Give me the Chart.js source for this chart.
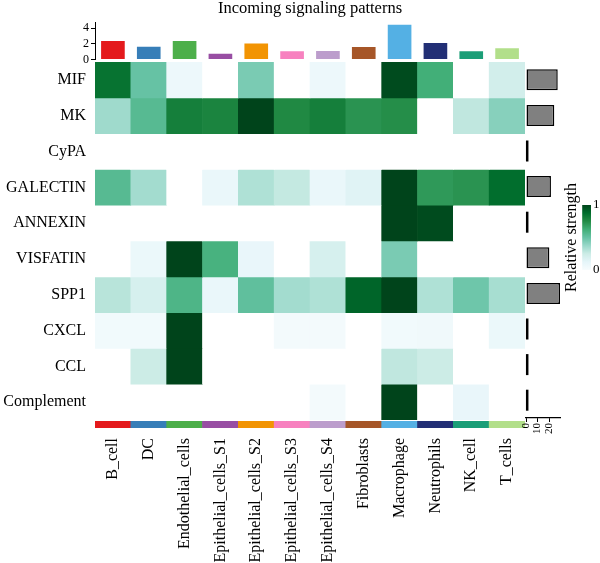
<!DOCTYPE html>
<html>
<head>
<meta charset="utf-8">
<title>Incoming signaling patterns</title>
<script src="https://cdn.jsdelivr.net/npm/chart.js@4.4.0/dist/chart.umd.min.js"></script>
<style>
    body { margin: 0; background: #fff; }
    #wrap { position: relative; width: 600px; height: 563px; overflow: hidden; }
    canvas { position: absolute; }
</style>
</head>
<body>
<div id="wrap">
    <canvas id="topBars" width="600" height="70" style="left:0;top:0"></canvas>
    <canvas id="heat" width="525" height="396" style="left:0;top:43px"></canvas>
    <canvas id="strip" width="600" height="152" style="left:0;top:411px"></canvas>
    <canvas id="rowBars" width="85" height="393" style="left:515px;top:52px"></canvas>
    <canvas id="legend" width="45" height="135" style="left:555px;top:170px"></canvas>
</div>
<script>
    // cell groups (columns) and signaling pathways (rows)
    const cellTypes = ['B_cell', 'DC', 'Endothelial_cells', 'Epithelial_cells_S1', 'Epithelial_cells_S2',
        'Epithelial_cells_S3', 'Epithelial_cells_S4', 'Fibroblasts', 'Macrophage', 'Neutrophils', 'NK_cell', 'T_cells'];
    const cellColors = ['#E41A1C', '#377EB8', '#4DAF4A', '#984EA3', '#F29403', '#F781BF',
        '#BC9DCC', '#A65628', '#54B0E4', '#222F75', '#1B9E77', '#B2DF8A'];
    const pathways = ['MIF', 'MK', 'CyPA', 'GALECTIN', 'ANNEXIN', 'VISFATIN', 'SPP1', 'CXCL', 'CCL', 'Complement'];

    // relative strength per pathway, one value per cell group
    const mif        = [0.85, 0.50, 0.07, 0,    0.45, 0,    0.07, 0,    0.98, 0.62, 0,    0.22];
    const mk         = [0.36, 0.55, 0.80, 0.78, 1.00, 0.76, 0.80, 0.72, 0.74, 0,    0.28, 0.42];
    const cypa       = [0,    0,    0,    0,    0,    0,    0,    0,    0,    0,    0,    0];
    const galectin   = [0.55, 0.35, 0,    0.09, 0.32, 0.27, 0.09, 0.15, 1.00, 0.70, 0.72, 0.87];
    const annexin    = [0,    0,    0,    0,    0,    0,    0,    0,    1.00, 0.98, 0,    0];
    const visfatin   = [0,    0.08, 1.00, 0.60, 0.10, 0,    0.20, 0,    0.45, 0,    0,    0];
    const spp1       = [0.30, 0.20, 0.58, 0.09, 0.52, 0.35, 0.32, 0.90, 1.00, 0.32, 0.48, 0.34];
    const cxcl       = [0.04, 0.04, 1.00, 0,    0,    0.03, 0.03, 0,    0.04, 0.05, 0,    0.08];
    const ccl        = [0,    0.25, 1.00, 0,    0,    0,    0,    0,    0.28, 0.25, 0,    0];
    const complement = [0,    0,    0,    0,    0,    0,    0.03, 0,    1.00, 0,    0.10, 0];
    const heatRows = [mif, mk, cypa, galectin, annexin, visfatin, spp1, cxcl, ccl, complement];

    // top annotation: incoming total per cell group
    const incomingTotals = [2.39, 1.65, 2.39, 0.75, 2.04, 1.06, 1.10, 1.61, 4.45, 2.13, 1.06, 1.45];
    const topTicks = [0, 2, 4];
    // right annotation: total per pathway
    const rowTotals = [27.6, 24.6, 0, 21.7, 0, 20.3, 29.6, 0, 0, 0];
    const rowTicks = [0, 10, 20];
    const legendTicks = [0, 1];

    const serif = 'Liberation Serif, Times New Roman, serif';
    const bugn = ['#f7fcfd', '#e5f5f9', '#ccece6', '#99d8c9', '#66c2a4', '#41ae76', '#238b45', '#006d2c', '#00441b'];

    function hexRgb(h) {
        return [parseInt(h.slice(1, 3), 16), parseInt(h.slice(3, 5), 16), parseInt(h.slice(5, 7), 16)];
    }
    function rampColor(v) {
        const t = Math.max(0, Math.min(1, v)) * (bugn.length - 1);
        const i = Math.min(Math.floor(t), bugn.length - 2);
        const f = t - i;
        const a = hexRgb(bugn[i]), b = hexRgb(bugn[i + 1]);
        const c = a.map((x, k) => Math.round(x + (b[k] - x) * f));
        return `rgb(${c[0]},${c[1]},${c[2]})`;
    }
    function heatColor(v) {
        return v <= 0 ? '#ffffff' : rampColor(v);
    }

    Chart.defaults.font.family = serif;
    Chart.defaults.color = '#000';

    // top bar annotation + title
    new Chart(document.getElementById('topBars'), {
        type: 'bar',
        data: {
            labels: cellTypes,
            datasets: [{
                data: incomingTotals,
                backgroundColor: cellColors,
                barPercentage: 0.66,
                categoryPercentage: 1
            }]
        },
        options: {
            responsive: false,
            animation: false,
            layout: { padding: { left: 70, right: 75, top: 0, bottom: 10.5 } },
            plugins: {
                legend: { display: false },
                tooltip: { enabled: false },
                title: {
                    display: true,
                    text: 'Incoming signaling patterns',
                    fullSize: false,
                    color: '#000',
                    font: { family: serif, size: 16.5, weight: 'normal', lineHeight: 1 },
                    padding: { top: 0, bottom: 6 }
                }
            },
            scales: {
                x: { display: false },
                y: {
                    min: 0,
                    max: 4.75,
                    afterFit: s => { s.width = 25; },
                    afterBuildTicks: s => { s.ticks = topTicks.map(v => ({ value: v })); },
                    grid: { drawOnChartArea: false, drawTicks: true, tickLength: 4, color: '#000' },
                    border: { display: true, color: '#000', width: 1 },
                    ticks: { autoSkip: false, color: '#000', font: { family: serif, size: 12 }, padding: 2 }
                }
            }
        }
    });

    // heatmap as stacked bars, one dataset per pathway
    new Chart(document.getElementById('heat'), {
        type: 'bar',
        data: {
            labels: cellTypes,
            datasets: heatRows.map((vals, r) => ({
                label: pathways[r],
                data: vals.map(() => 1),
                backgroundColor: vals.map(heatColor),
                borderWidth: 0,
                barPercentage: 1,
                categoryPercentage: 1
            }))
        },
        options: {
            responsive: false,
            animation: false,
            layout: { padding: { left: 0, right: 0, top: 19, bottom: 19 } },
            plugins: { legend: { display: false }, tooltip: { enabled: false } },
            scales: {
                x: { display: false, stacked: true },
                y: {
                    stacked: true,
                    reverse: true,
                    min: 0,
                    max: pathways.length,
                    afterFit: s => { s.width = 95; },
                    afterBuildTicks: s => { s.ticks = pathways.map((p, i) => ({ value: i + 0.5 })); },
                    grid: { display: false, drawTicks: false },
                    border: { display: false },
                    ticks: {
                        autoSkip: false,
                        padding: 9,
                        color: '#000',
                        font: { family: serif, size: 16 },
                        callback: v => pathways[Math.floor(v)]
                    }
                }
            }
        }
    });

    // colour strip of cell groups with their names
    new Chart(document.getElementById('strip'), {
        type: 'bar',
        data: {
            labels: cellTypes,
            datasets: [{
                data: cellTypes.map(() => 1),
                backgroundColor: cellColors,
                borderWidth: 0,
                barPercentage: 1,
                categoryPercentage: 1
            }]
        },
        options: {
            responsive: false,
            animation: false,
            layout: { padding: { left: 95, right: 75, top: 10, bottom: 0 } },
            plugins: { legend: { display: false }, tooltip: { enabled: false } },
            scales: {
                y: { display: false, min: 0, max: 1 },
                x: {
                    afterFit: s => { s.height = 135; },
                    grid: { display: false, drawTicks: false },
                    border: { display: false },
                    ticks: {
                        autoSkip: false,
                        minRotation: 90,
                        maxRotation: 90,
                        padding: 10,
                        color: '#000',
                        font: { family: serif, size: 16 }
                    }
                }
            }
        }
    });

    // zero-valued rows are drawn as a short black line at 0
    const zeroDash = {
        id: 'zeroDash',
        afterDatasetsDraw(chart) {
            const meta = chart.getDatasetMeta(0);
            const x0 = chart.scales.x.getPixelForValue(0);
            const ctx = chart.ctx;
            ctx.save();
            ctx.strokeStyle = '#000';
            ctx.lineWidth = 2.5;
            meta.data.forEach((bar, i) => {
                if (rowTotals[i] !== 0) return;
                ctx.beginPath();
                ctx.moveTo(x0 + 1.2, bar.y - bar.height / 2);
                ctx.lineTo(x0 + 1.2, bar.y + bar.height / 2);
                ctx.stroke();
            });
            ctx.restore();
        }
    };

    new Chart(document.getElementById('rowBars'), {
        type: 'bar',
        data: {
            labels: pathways,
            datasets: [{
                data: rowTotals,
                backgroundColor: '#808080',
                borderColor: '#000',
                borderWidth: 1.5,
                borderSkipped: false,
                barPercentage: 0.59,
                categoryPercentage: 1
            }]
        },
        options: {
            indexAxis: 'y',
            responsive: false,
            animation: false,
            layout: { padding: { left: 11, right: 39.5, top: 10, bottom: 0 } },
            plugins: { legend: { display: false }, tooltip: { enabled: false } },
            scales: {
                y: { display: false },
                x: {
                    min: 0,
                    max: 30,
                    afterFit: s => { s.height = 27; },
                    afterBuildTicks: s => { s.ticks = rowTicks.map(v => ({ value: v })); },
                    grid: { drawOnChartArea: false, drawTicks: true, tickLength: 4, color: '#000' },
                    border: { display: true, color: '#000', width: 1.2 },
                    ticks: {
                        autoSkip: false,
                        minRotation: 90,
                        maxRotation: 90,
                        padding: 1,
                        color: '#000',
                        font: { family: serif, size: 11 }
                    }
                }
            }
        },
        plugins: [zeroDash]
    });

    // colour legend
    new Chart(document.getElementById('legend'), {
        type: 'bar',
        data: {
            labels: ['strength'],
            datasets: [{
                data: [1],
                yAxisID: 'y',
                borderWidth: 0,
                barPercentage: 1,
                categoryPercentage: 1,
                backgroundColor: ctx => {
                    const area = ctx.chart.chartArea;
                    if (!area) return bugn[4];
                    const g = ctx.chart.ctx.createLinearGradient(0, area.bottom, 0, area.top);
                    for (let k = 0; k <= 8; k++) g.addColorStop(k / 8, rampColor(k / 8));
                    return g;
                }
            }]
        },
        options: {
            responsive: false,
            animation: false,
            layout: { padding: { left: 3, right: 0, top: 35, bottom: 35 } },
            plugins: { legend: { display: false }, tooltip: { enabled: false } },
            scales: {
                x: { display: false },
                y: {
                    min: 0,
                    max: 1,
                    grid: { display: false, drawTicks: false },
                    border: { display: false },
                    ticks: { display: false },
                    title: {
                        display: true,
                        text: 'Relative strength',
                        color: '#000',
                        font: { family: serif, size: 16 },
                        padding: { top: 4, bottom: 1 }
                    }
                },
                y2: {
                    display: true,
                    position: 'right',
                    min: 0,
                    max: 1,
                    afterFit: s => { s.width = 9; },
                    afterBuildTicks: s => { s.ticks = legendTicks.map(v => ({ value: v })); },
                    grid: { display: false, drawTicks: false },
                    border: { display: false },
                    ticks: { padding: 2, color: '#000', font: { family: serif, size: 13 } }
                }
            }
        }
    });
</script>
</body>
</html>
